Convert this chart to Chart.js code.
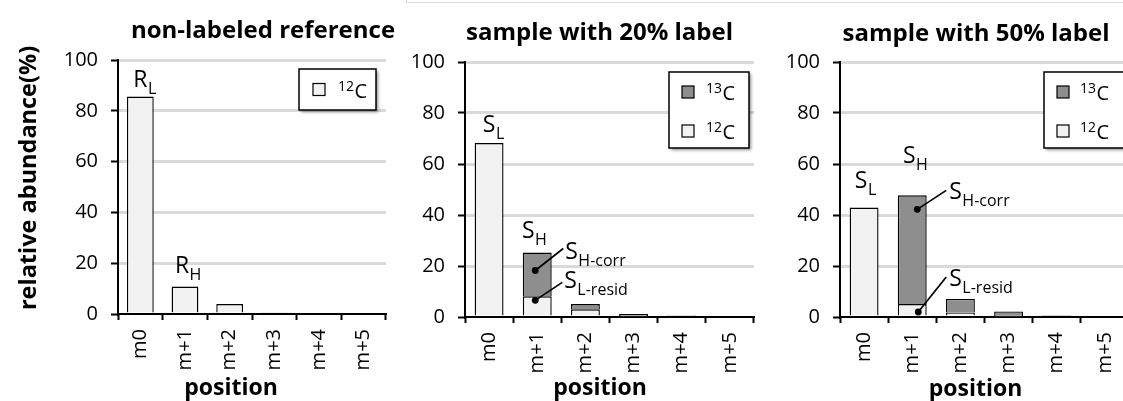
<!DOCTYPE html>
<html>
<head>
<meta charset="utf-8">
<script src="https://cdn.jsdelivr.net/npm/chart.js@4.4.1/dist/chart.umd.min.js"></script>
<style>
  html, body { margin: 0; padding: 0; background: #fff; overflow: hidden; width: 1123px; height: 401px; }
  canvas.panel { position: absolute; top: 0; }
  #frame { position: absolute; left: 406px; top: -10px; width: 800px; height: 12px;
           border-left: 1px solid #dadada; border-bottom: 1px solid #dadada; }
</style>
</head>
<body>
<div id="frame"></div>
<canvas id="c1" class="panel" width="400" height="401" style="left:0px"></canvas>
<canvas id="c2" class="panel" width="370" height="401" style="left:400px"></canvas>
<canvas id="c3" class="panel" width="380" height="401" style="left:770px"></canvas>
<script>
// mass positions on the x axis
const positions = ['m0', 'm+1', 'm+2', 'm+3', 'm+4', 'm+5'];
// y axis ticks (relative abundance, %)
const yTicks = [0, 20, 40, 60, 80, 100];

// non-labeled reference
const reference12C = [85.6, 10.8, 3.9, 0.5, 0, 0];
// sample with 20% label
const label20_12C = [68.2, 8.1, 3.0, 0.2, 0, 0];
const label20_13C = [0, 17.2, 2.1, 1.0, 0.1, 0];
// sample with 50% label
const label50_12C = [42.9, 5.1, 1.8, 0.1, 0, 0];
const label50_13C = [0, 42.6, 5.3, 2.1, 0.3, 0];

const FONT = '"Open Sans", "DejaVu Sans", sans-serif';
const LIGHT = '#f2f2f2';
const DARK = '#8e8e8e';
const MAIN_SIZE = 23, SUB_SIZE = 16;

// letter with a subscript, e.g. S with "H-corr"
function drawSubLabel(ctx, main, sub, x, y, align) {
  ctx.fillStyle = '#000';
  ctx.textBaseline = 'alphabetic';
  ctx.textAlign = 'left';
  ctx.font = `${MAIN_SIZE}px ${FONT}`;
  const mw = ctx.measureText(main).width;
  const left = align === 'center' ? x - mw / 2 : x;
  ctx.fillText(main, left, y);
  ctx.font = `${SUB_SIZE}px ${FONT}`;
  ctx.fillText(sub, left + mw + 0.5, y + 7);
}

// panel title, x caption and optional y caption
const panelText = {
  id: 'panelText',
  afterDraw(chart, args, o) {
    const ctx = chart.ctx;
    ctx.save();
    ctx.fillStyle = '#000';
    ctx.textAlign = 'center';
    ctx.textBaseline = 'alphabetic';
    ctx.font = `bold ${o.titleSize}px ${FONT}`;
    ctx.fillText(o.title, o.titleX - o.left, o.titleY);
    ctx.font = `bold ${o.xSize}px ${FONT}`;
    ctx.fillText(o.xTitle, o.xTitleX - o.left, o.xTitleY);
    if (o.yTitle) {
      ctx.translate(o.yTitleX - o.left, o.yTitleY);
      ctx.rotate(-Math.PI / 2);
      ctx.font = `bold ${o.ySize}px ${FONT}`;
      ctx.fillText(o.yTitle, 0, 0);
    }
    ctx.restore();
  }
};

// framed legend with drop shadow in the upper right of the plot
const boxLegend = {
  id: 'boxLegend',
  afterDraw(chart, args, o) {
    const { ctx, chartArea: a } = chart;
    const items = chart.data.datasets.map(d => ({ label: d.label, color: d.backgroundColor })).reverse();
    const x = a.right - o.rightInset - o.width;
    const y = a.top + o.topInset;
    ctx.save();
    ctx.shadowColor = 'rgba(0,0,0,0.45)';
    ctx.shadowOffsetX = 2; ctx.shadowOffsetY = 2; ctx.shadowBlur = 3;
    ctx.fillStyle = '#fff';
    ctx.fillRect(x, y, o.width, o.height);
    ctx.shadowColor = 'transparent';
    ctx.strokeStyle = '#000'; ctx.lineWidth = 1.5;
    ctx.strokeRect(x, y, o.width, o.height);
    items.forEach((it, i) => {
      const cy = y + o.firstRow + i * o.rowGap;
      ctx.fillStyle = it.color;
      ctx.fillRect(x + o.boxX, cy - 6, 12, 12);
      ctx.lineWidth = 1.2; ctx.strokeStyle = '#000';
      ctx.strokeRect(x + o.boxX, cy - 6, 12, 12);
      const m = /^(\d+)(.*)$/.exec(it.label);
      ctx.fillStyle = '#000';
      ctx.textAlign = 'left'; ctx.textBaseline = 'alphabetic';
      ctx.font = `14px ${FONT}`;
      ctx.fillText(m[1], x + o.textX, cy + 1);
      const sw = ctx.measureText(m[1]).width;
      ctx.font = `20px ${FONT}`;
      ctx.fillText(m[2], x + o.textX + sw + 0.5, cy + 8);
    });
    ctx.restore();
  }
};

// bar-top names and leader-line callouts
const barNotes = {
  id: 'barNotes',
  afterDatasetsDraw(chart, args, o) {
    const ctx = chart.ctx;
    const metas = chart.data.datasets.map((d, i) => chart.getDatasetMeta(i));
    ctx.save();
    (o.tops || []).forEach(n => {
      let top = Infinity, x = 0;
      metas.forEach(m => { const el = m.data[n.cat]; top = Math.min(top, el.y, el.base); x = el.x; });
      drawSubLabel(ctx, n.main, n.sub, x + n.dx, top - n.gap, 'center');
    });
    (o.leaders || []).forEach(n => {
      const el = metas[n.ds].data[n.cat];
      const px = el.x + n.dotDx, py = el.y + n.inset;
      ctx.strokeStyle = '#000'; ctx.lineWidth = 1.7;
      ctx.beginPath(); ctx.moveTo(px, py); ctx.lineTo(px + n.lineDx, py + n.lineDy); ctx.stroke();
      ctx.fillStyle = '#000';
      ctx.beginPath(); ctx.arc(px, py, 3.4, 0, Math.PI * 2); ctx.fill();
      drawSubLabel(ctx, n.main, n.sub, px + n.textDx, py + n.textDy, 'left');
    });
    ctx.restore();
  }
};

function makeChart(id, p) {
  const datasets = p.series.map(s => ({
    label: s.label,
    data: s.data,
    backgroundColor: s.color,
    borderColor: '#000',
    borderWidth: 1.4,
    borderSkipped: 'start',
    barPercentage: 0.6,
    categoryPercentage: 1
  }));
  return new Chart(document.getElementById(id), {
    type: 'bar',
    data: { labels: positions, datasets },
    options: {
      responsive: false,
      animation: false,
      devicePixelRatio: 1,
      events: [],
      layout: { padding: { left: 0, right: p.padRight, top: p.top, bottom: 0 } },
      scales: {
        x: {
          stacked: true,
          afterFit: s => { s.height = 401 - p.bottom; },
          grid: { display: true, drawOnChartArea: false, offset: true, tickLength: 6, tickColor: '#000', tickWidth: 2 },
          border: { display: true, color: '#000', width: 2 },
          ticks: { autoSkip: false, minRotation: 90, maxRotation: 90, padding: 9, color: '#000', font: { family: FONT, size: 20 } }
        },
        y: {
          stacked: true,
          min: 0,
          max: 100,
          afterFit: s => { s.width = p.yWidth; },
          afterBuildTicks: s => { s.ticks = yTicks.map(v => ({ value: v })); },
          grid: {
            color: c => (c.tick && c.tick.value === 0 ? 'rgba(0,0,0,0)' : '#dadada'),
            lineWidth: 3, tickLength: 7, tickColor: '#000', tickWidth: 2
          },
          border: { color: '#000', width: 2 },
          ticks: { padding: 13, color: '#000', font: { family: FONT, size: 20 } }
        }
      },
      plugins: {
        legend: { display: false },
        tooltip: { enabled: false },
        panelText: p.text,
        boxLegend: p.legend,
        barNotes: p.notes
      }
    },
    plugins: [panelText, boxLegend, barNotes]
  });
}

function build() {
  makeChart('c1', {
    padRight: 14, top: 60, bottom: 314, yWidth: 118,
    series: [{ label: '12C', data: reference12C, color: LIGHT }],
    text: { left: 0, title: 'non-labeled reference', titleSize: 24, titleX: 263, titleY: 38,
            xTitle: 'position', xSize: 23, xTitleX: 231, xTitleY: 395,
            yTitle: 'relative abundance(%)', ySize: 23.5, yTitleX: 36, yTitleY: 178 },
    legend: { width: 77, height: 41, rightInset: 10, topInset: 9, firstRow: 20.5, rowGap: 38, boxX: 14, textX: 39 },
    notes: {
      tops: [
        { cat: 0, main: 'R', sub: 'L', gap: 10, dx: 0 },
        { cat: 1, main: 'R', sub: 'H', gap: 14, dx: -3 }
      ]
    }
  });
  makeChart('c2', {
    padRight: 16, top: 62, bottom: 317, yWidth: 65,
    series: [
      { label: '12C', data: label20_12C, color: LIGHT },
      { label: '13C', data: label20_13C, color: DARK }
    ],
    text: { left: 400, title: 'sample with 20% label', titleSize: 24, titleX: 599.5, titleY: 40,
            xTitle: 'position', xSize: 23, xTitleX: 600, xTitleY: 395 },
    legend: { width: 80, height: 76, rightInset: 5, topInset: 10, firstRow: 20, rowGap: 39, boxX: 13, textX: 37 },
    notes: {
      tops: [
        { cat: 0, main: 'S', sub: 'L', gap: 11, dx: 0 },
        { cat: 1, main: 'S', sub: 'H', gap: 14, dx: -9 }
      ],
      leaders: [
        { cat: 1, ds: 1, inset: 18, dotDx: -2, lineDx: 28, lineDy: -22, textDx: 30, textDy: -11, main: 'S', sub: 'H-corr' },
        { cat: 1, ds: 0, inset: 4, dotDx: -2, lineDx: 27, lineDy: -18, textDx: 29, textDy: -12, main: 'S', sub: 'L-resid' }
      ]
    }
  });
  makeChart('c3', {
    padRight: 21, top: 62, bottom: 317, yWidth: 70,
    series: [
      { label: '12C', data: label50_12C, color: LIGHT },
      { label: '13C', data: label50_13C, color: DARK }
    ],
    text: { left: 770, title: 'sample with 50% label', titleSize: 24, titleX: 976, titleY: 40.5,
            xTitle: 'position', xSize: 23, xTitleX: 975.5, xTitleY: 396 },
    legend: { width: 80, height: 76, rightInset: 5, topInset: 10, firstRow: 20, rowGap: 39, boxX: 13, textX: 36 },
    notes: {
      tops: [
        { cat: 0, main: 'S', sub: 'L', gap: 20, dx: -3 },
        { cat: 1, main: 'S', sub: 'H', gap: 32, dx: -3 }
      ],
      leaders: [
        { cat: 1, ds: 1, inset: 14, dotDx: 5, lineDx: 29, lineDy: -19, textDx: 32, textDy: -10, main: 'S', sub: 'H-corr' },
        { cat: 1, ds: 0, inset: 8, dotDx: 6, lineDx: 28, lineDy: -35, textDx: 31, textDy: -26, main: 'S', sub: 'L-resid' }
      ]
    }
  });
}

const fontLoads = document.fonts ? [
  document.fonts.load(`20px "Open Sans"`),
  document.fonts.load(`bold 24px "Open Sans"`)
] : [];
Promise.all(fontLoads).then(build, build);
</script>
</body>
</html>
